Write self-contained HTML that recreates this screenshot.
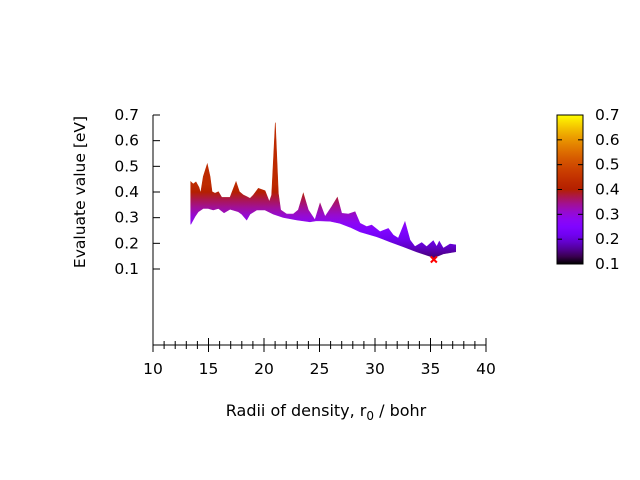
<!DOCTYPE html>
<html><head><meta charset="utf-8"><style>
html,body{margin:0;padding:0;background:#fff;}
svg{display:block;font-family:"DejaVu Sans","Liberation Sans",sans-serif;}
</style></head><body>
<svg id="chart" width="640" height="480" viewBox="0 0 640 480">
<defs id="defs"></defs>
<g id="plot"></g>
<g id="axes"></g>
<text x="85" y="192" font-size="15.5" text-anchor="middle" transform="rotate(-90 85 192)">Evaluate value [eV]</text>
<text x="326" y="416" font-size="16" text-anchor="middle">Radii of density, r<tspan font-size="12" dy="4">0</tspan><tspan dy="-4"> / bohr</tspan></text>
<g id="cbar"></g>
</svg>
<script>
const topX=[13.40,13.63,13.87,14.14,14.29,14.53,14.89,15.14,15.32,15.59,15.89,16.19,16.94,17.48,17.78,18.14,18.44,18.74,19.04,19.49,20.09,20.48,20.69,21.02,21.29,21.50,22.04,22.64,23.09,23.54,23.99,24.59,25.05,25.50,26.10,26.61,27.00,27.60,28.20,28.65,29.25,29.70,30.45,31.20,31.65,32.10,32.70,33.15,33.60,34.21,34.65,35.25,35.56,35.79,36.15,36.76,37.27];
const topY=[0.440,0.431,0.439,0.418,0.395,0.460,0.509,0.460,0.401,0.395,0.401,0.379,0.379,0.440,0.401,0.388,0.382,0.375,0.388,0.414,0.405,0.362,0.388,0.670,0.395,0.330,0.314,0.314,0.330,0.395,0.330,0.291,0.356,0.304,0.343,0.379,0.317,0.314,0.323,0.278,0.265,0.271,0.245,0.258,0.232,0.220,0.284,0.213,0.187,0.203,0.187,0.210,0.187,0.208,0.181,0.197,0.194];
const botX=[13.40,13.78,14.08,14.53,14.98,15.43,15.89,16.40,16.94,17.69,17.99,18.44,18.74,19.34,20.09,20.84,21.74,22.95,24.14,24.75,25.95,26.85,27.75,28.65,30.15,31.35,32.55,33.75,35.32,36.15,37.27];
const botY=[0.274,0.304,0.323,0.336,0.336,0.330,0.336,0.319,0.333,0.323,0.314,0.291,0.314,0.330,0.330,0.314,0.301,0.291,0.284,0.288,0.286,0.278,0.263,0.245,0.226,0.206,0.187,0.167,0.144,0.159,0.167];
const minX=[35.3];
const minY=[0.137];
const xTicks=[10,15,20,25,30,35,40];
const yTicks=[0.1,0.2,0.3,0.4,0.5,0.6,0.7];
const cbTicks=[0.1,0.2,0.3,0.4,0.5,0.6,0.7];

const NS="http://www.w3.org/2000/svg";
const X0=153,X1=486,Y07=115,Y01=269;
const xs=v=>X0+(v-10)*(X1-X0)/30;
const ys=v=>Y01-(v-0.1)*(Y01-Y07)/0.6;
function mk(t,a,p){const e=document.createElementNS(NS,t);for(const k in a)e.setAttribute(k,a[k]);p.appendChild(e);return e;}
function pal(g){g=Math.max(0,Math.min(1,g));const r=Math.sqrt(g),gg=g*g*g,b=Math.max(0,Math.sin(2*Math.PI*g));return `rgb(${Math.round(r*255)},${Math.round(gg*255)},${Math.round(b*255)})`;}
const defs=document.getElementById('defs');
function grad(id,x1,y1,x2,y2,cap){const lg=mk('linearGradient',{id:id,gradientUnits:'userSpaceOnUse',x1:x1,y1:y1,x2:x2,y2:y2},defs);for(let i=0;i<=20;i++){mk('stop',{offset:i/20,'stop-color':pal(Math.min(cap,i/20))},lg);}}
grad('pg',0,ys(0.1),0,ys(0.7),0.55);
grad('cg',0,264,0,115,1);

const plot=document.getElementById('plot');
let pts=[];
for(let i=0;i<topX.length;i++)pts.push(xs(topX[i])+','+ys(topY[i]));
for(let i=botX.length-1;i>=0;i--)pts.push(xs(botX[i])+','+ys(botY[i]));
const surf=mk('polygon',{points:pts.join(' '),fill:'url(#pg)',stroke:'url(#pg)','stroke-width':0.6},plot);


for(let i=0;i<minX.length;i++){
 const cx=xs(minX[i]),cy=ys(minY[i]);
 const m=mk('path',{d:`M${cx-3},${cy-3}L${cx+3},${cy+3}M${cx-3},${cy+3}L${cx+3},${cy-3}`,stroke:'#f00','stroke-width':2},plot);
 
 
}

const ax=document.getElementById('axes');
mk('line',{x1:X0,y1:115,x2:X0,y2:352,stroke:'#000','stroke-width':1},ax);
mk('line',{x1:X0,y1:345,x2:X1,y2:345,stroke:'#000','stroke-width':1},ax);
for(let v=10;v<=40;v++){const x=xs(v);const maj=v%5===0;mk('line',{x1:x,y1:maj?338:341,x2:x,y2:maj?352:349,stroke:'#000','stroke-width':1},ax);}
xTicks.forEach(v=>{const t=mk('text',{x:xs(v),y:374,'font-size':15.5,'text-anchor':'middle'},ax);t.textContent=v;
 
 });
yTicks.forEach(v=>{const y=ys(v);mk('line',{x1:X0,y1:y,x2:X0+7,y2:y,stroke:'#000','stroke-width':1},ax);
 const t=mk('text',{x:139,y:y+5,'font-size':15.5,'text-anchor':'end'},ax);t.textContent=v.toFixed(1);
 
 });

const cb=document.getElementById('cbar');
mk('rect',{x:557,y:115,width:26,height:149,fill:'url(#cg)',stroke:'#000','stroke-width':1},cb);
cbTicks.forEach(v=>{const y=264-(v-0.1)/0.6*149;
 if(v>0.1&&v<0.7){mk('line',{x1:557,y1:y,x2:562,y2:y,stroke:'#000'},cb);mk('line',{x1:578,y1:y,x2:583,y2:y,stroke:'#000'},cb);}
 const t=mk('text',{x:595,y:y+5,'font-size':15.5},cb);t.textContent=v.toFixed(1);
 
 });
</script>
</body></html>
